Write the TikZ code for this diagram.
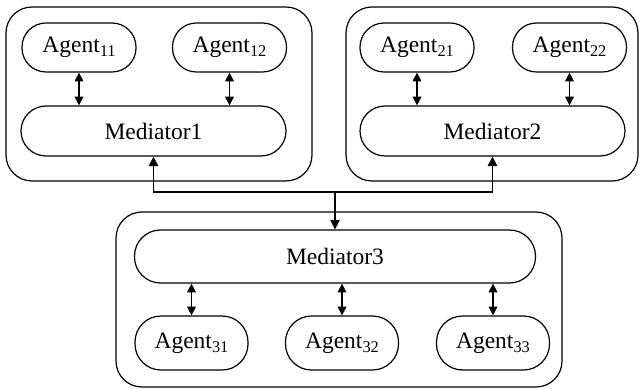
\documentclass[tikz,border=0pt]{standalone}
\usepackage{fontspec}
\setmainfont{Liberation Serif}
\usetikzlibrary{arrows.meta}
% lowered index for agent names
\newcommand\agsub[1]{\raisebox{-1.9pt}{\fontsize{8.2}{10}\selectfont#1}}
\begin{document}
\begin{tikzpicture}[x=0.5pt,y=-0.5pt,
  line width=0.6pt,
  font=\fontsize{11.75}{14}\selectfont,
  group/.style={draw, rounded corners=13pt, inner sep=0pt},
  agent/.style={draw, rounded corners=12pt, inner sep=0pt, minimum width=57pt, minimum height=24.5pt},
  agentlow/.style={draw, rounded corners=13pt, inner sep=0pt, minimum width=56.5pt, minimum height=27pt},
  mediator/.style={draw, rounded corners=12.5pt, inner sep=0pt, minimum width=132.5pt, minimum height=25pt},
  tip/.style={-{Triangle[length=4.8pt,width=4.8pt]}},
  both/.style={{Triangle[length=4.4pt,width=4.4pt]}-{Triangle[length=4.4pt,width=4.4pt]}}]
  \useasboundingbox (0,0) rectangle (640,389);

  % enclosing groups
  \node (g1) [group, minimum width=153pt, minimum height=87pt] at (159,94) {};
  \node (g2) [group, minimum width=146pt, minimum height=87pt] at (492,94) {};
  \node (g3) [group, minimum width=223pt, minimum height=87.5pt] at (339,299.5) {};

  % group 1
  \node (a11) [agent] at (79,47.5) {Agent\agsub{11}};
  \node (a12) [agent] at (229.5,47.5) {Agent\agsub{12}};
  \node (m1) [mediator] at (153.5,131) {Mediator1};

  % group 2
  \node (a21) [agent] at (417,47.5) {Agent\agsub{21}};
  \node (a22) [agent] at (569.5,47.5) {Agent\agsub{22}};
  \node (m2) [mediator] at (492.5,131) {Mediator2};

  % group 3
  \node (m3) [mediator, minimum width=200.5pt, minimum height=26.5pt, rounded corners=13pt] at (335,256.5) {Mediator3};
  \node (a31) [agentlow] at (191.5,343) {Agent\agsub{31}};
  \node (a32) [agentlow] at (342,343) {Agent\agsub{32}};
  \node (a33) [agentlow] at (493,343) {Agent\agsub{33}};

  % agent <-> mediator links
  \draw[both] (a11.south) -- (a11.south |- m1.north);
  \draw[both] (a12.south) -- (a12.south |- m1.north);
  \draw[both] (a21.south) -- (a21.south |- m2.north);
  \draw[both] (a22.south) -- (a22.south |- m2.north);
  \draw[both] (a31.north) -- (a31.north |- m3.south);
  \draw[both] (a32.north) -- (a32.north |- m3.south);
  \draw[both] (a33.north) -- (a33.north |- m3.south);

  % mediator links
  \coordinate (j) at (335,192);
  \draw[tip] (j) -| (m1.south);
  \draw[tip] (j) -| (m2.south);
  \draw[tip] (j) -- (m3.north);
\end{tikzpicture}
\end{document}
